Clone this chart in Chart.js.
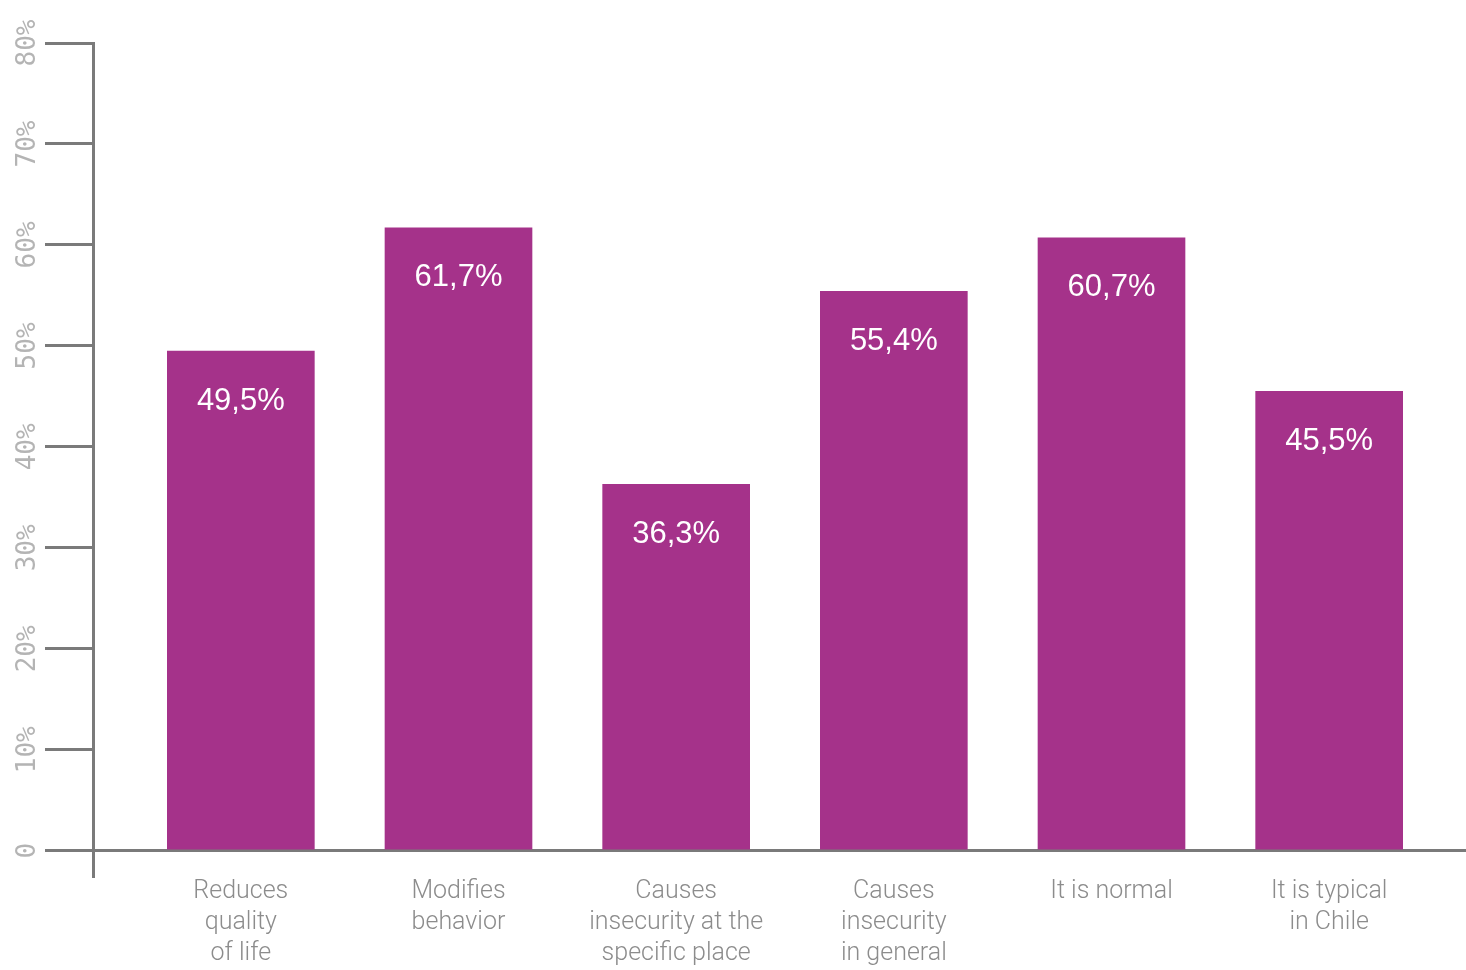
<!DOCTYPE html>
<html lang="en">
  <head>
    <meta charset="UTF-8" />
    <title>Perception of harassment</title>
    <script src="https://cdn.jsdelivr.net/npm/chart.js"></script>
    <style>
      html, body { margin: 0; padding: 0; background: #fff; }
      #wrap { width: 1466px; height: 970px; }
    </style>
  </head>
  <body>
    <div id="wrap"><canvas id="barChart"></canvas></div>

    <script>
      // === Data ===
      const categories = [
        ["Reduces", "quality", "of life"],
        ["Modifies", "behavior"],
        ["Causes", "insecurity at the", "specific place"],
        ["Causes", "insecurity", "in general"],
        ["It is normal"],
        ["It is typical", "in Chile"],
      ];
      const percentages = [49.5, 61.7, 36.3, 55.4, 60.7, 45.5];
      const yTicks = [0, 10, 20, 30, 40, 50, 60, 70, 80];

      const axisColor = "#7a7a7a";
      const barColor = "#a5328a";

      // move the category band a little inside the plot area, like the original
      const shiftX = {
        id: "shiftX",
        afterLayout(chart) {
          const x = chart.scales.x;
          x.left += 39;
          x.right -= 28;
          x.width = x.right - x.left;
          x.configure();
        },
      };

      // value labels inside the top of each bar
      const barLabels = {
        id: "barLabels",
        afterDatasetsDraw(chart) {
          const ctx = chart.ctx;
          const meta = chart.getDatasetMeta(0);
          ctx.save();
          ctx.fillStyle = "#ffffff";
          ctx.font = "31px 'Liberation Sans', Arial, sans-serif";
          ctx.textAlign = "center";
          ctx.textBaseline = "middle";
          meta.data.forEach((bar, i) => {
            const txt = percentages[i].toFixed(1).replace(".", ",") + "%";
            ctx.fillText(txt, bar.x, bar.y + 50);
          });
          ctx.restore();
        },
      };

      new Chart(document.getElementById("barChart"), {
        type: "bar",
        data: {
          labels: categories,
          datasets: [
            {
              data: percentages,
              backgroundColor: barColor,
              barThickness: 147,
            },
          ],
        },
        options: {
          responsive: true,
          maintainAspectRatio: false,
          animation: false,
          layout: { padding: { top: 43, left: 0, right: 0, bottom: 0 } },
          plugins: {
            legend: { display: false },
            tooltip: { enabled: false },
          },
          scales: {
            x: {
              grid: { display: false, drawTicks: false },
              border: { display: false },
              ticks: {
                color: "#8c8c8c",
                padding: 0,
                maxRotation: 0,
                autoSkip: false,
                font: { family: "Roboto, 'Liberation Sans', sans-serif", size: 25, weight: "300", lineHeight: 1.24 },
              },
              afterFit(scale) {
                scale.height = 94;
              },
            },
            y: {
              min: -2.5,
              max: 80,
              afterBuildTicks(scale) {
                scale.ticks = yTicks.map((v) => ({ value: v }));
              },
              afterFit(scale) {
                scale.width = 93;
              },
              border: { display: true, color: axisColor, width: 3 },
              grid: {
                lineWidth: 3,
                tickLength: 48,
                tickColor: axisColor,
                color: (c) => (c.tick && c.tick.value === 0 ? axisColor : "rgba(0,0,0,0)"),
              },
              ticks: {
                minRotation: 90,
                maxRotation: 90,
                crossAlign: "center",
                padding: -7,
                color: "#b4b4b4",
                font: { family: "'DejaVu Sans Mono', monospace", size: 26 },
                callback: (v) => (v === 0 ? "0" : v + "%"),
              },
            },
          },
        },
        plugins: [shiftX, barLabels],
      });
    </script>
  </body>
</html>
